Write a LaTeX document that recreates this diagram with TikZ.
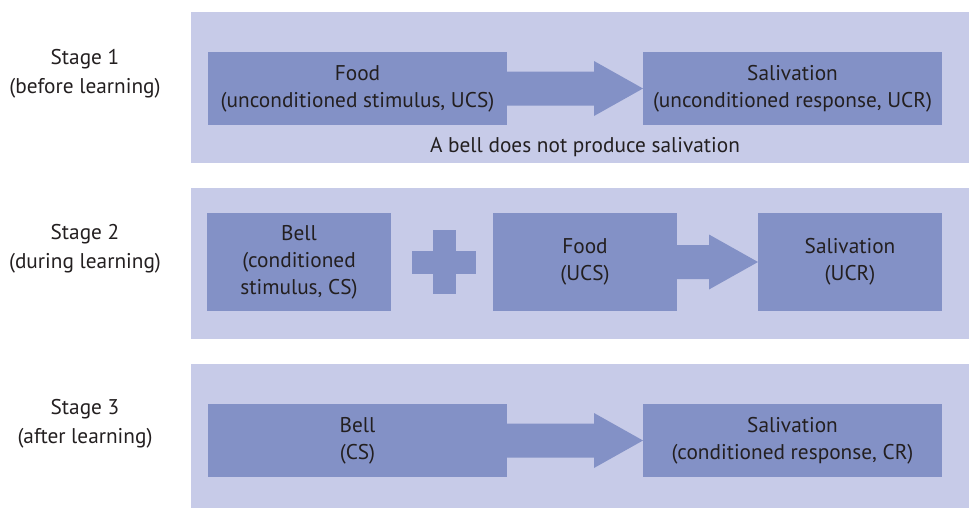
\documentclass[tikz,border=0pt]{standalone}
\usepackage{fontspec}
\setmainfont{PT Sans}
\usetikzlibrary{calc}
\definecolor{panelc}{HTML}{C7CBE8}
\definecolor{boxc}{HTML}{8391C6}
\definecolor{txtc}{HTML}{231F20}
\newcommand\blockarrow[2]{%
  \fill[boxc] ($(#1.east)+(0,17)$) -- ($(#2.west)+(-49,17)$) -- ($(#2.west)+(-49,27.5)$) --
    (#2.west) -- ($(#2.west)+(-49,-27.5)$) -- ($(#2.west)+(-49,-17)$) --
    ($(#1.east)+(0,-17)$) -- cycle;}
\begin{document}
\begin{tikzpicture}[x=1pt,y=-1pt,
  panel/.style={fill=panelc, draw=none},
  box/.style={fill=boxc, draw=none, inner sep=0pt, outer sep=0pt, align=center,
    text=txtc, font=\fontsize{21.3}{27}\selectfont},
  lbl/.style={align=center, text=txtc, inner sep=0pt, font=\fontsize{21.3}{28.5}\selectfont}]
\useasboundingbox (0,0) rectangle (969,509);
% panels
\fill[panel] (191,12) rectangle (969,163);
\fill[panel] (191,188) rectangle (969,339);
\fill[panel] (191,364) rectangle (969,508);
% stage labels
\node[lbl] (l1) at (85,74) {Stage 1\\(before learning)};
\node[lbl] (l2) at (85,249) {Stage 2\\(during learning)};
\node[lbl] (l3) at (85,424) {Stage 3\\(after learning)};
% stage 1
\node[box, minimum width=299pt, minimum height=73pt] (f1) at (357.5,88.5) {Food\\(unconditioned stimulus, UCS)};
\node[box, minimum width=299pt, minimum height=73pt] (s1) at (792.5,88.5) {Salivation\\(unconditioned response, UCR)};
\blockarrow{f1}{s1}
\node[lbl] (n1) at (585,147) {A bell does not produce salivation};
% stage 2
\node[box, minimum width=184pt, minimum height=98pt] (b2) at (299,262) {Bell\\(conditioned\\stimulus, CS)};
\node[box, minimum width=184pt, minimum height=98pt] (f2) at (585,262) {Food\\(UCS)};
\node[box, minimum width=184pt, minimum height=98pt] (s2) at (850,262) {Salivation\\(UCR)};
\coordinate (pc) at (444,262);
\fill[boxc] ($(pc)+(-32,-11.5)$) rectangle ($(pc)+(32,11.5)$);
\fill[boxc] ($(pc)+(-11.5,-32)$) rectangle ($(pc)+(11.5,32)$);
\blockarrow{f2}{s2}
% stage 3
\node[box, minimum width=299pt, minimum height=73pt] (b3) at (357.5,440.5) {Bell\\(CS)};
\node[box, minimum width=299pt, minimum height=73pt] (s3) at (792.5,440.5) {Salivation\\(conditioned response, CR)};
\blockarrow{b3}{s3}
\end{tikzpicture}
\end{document}
